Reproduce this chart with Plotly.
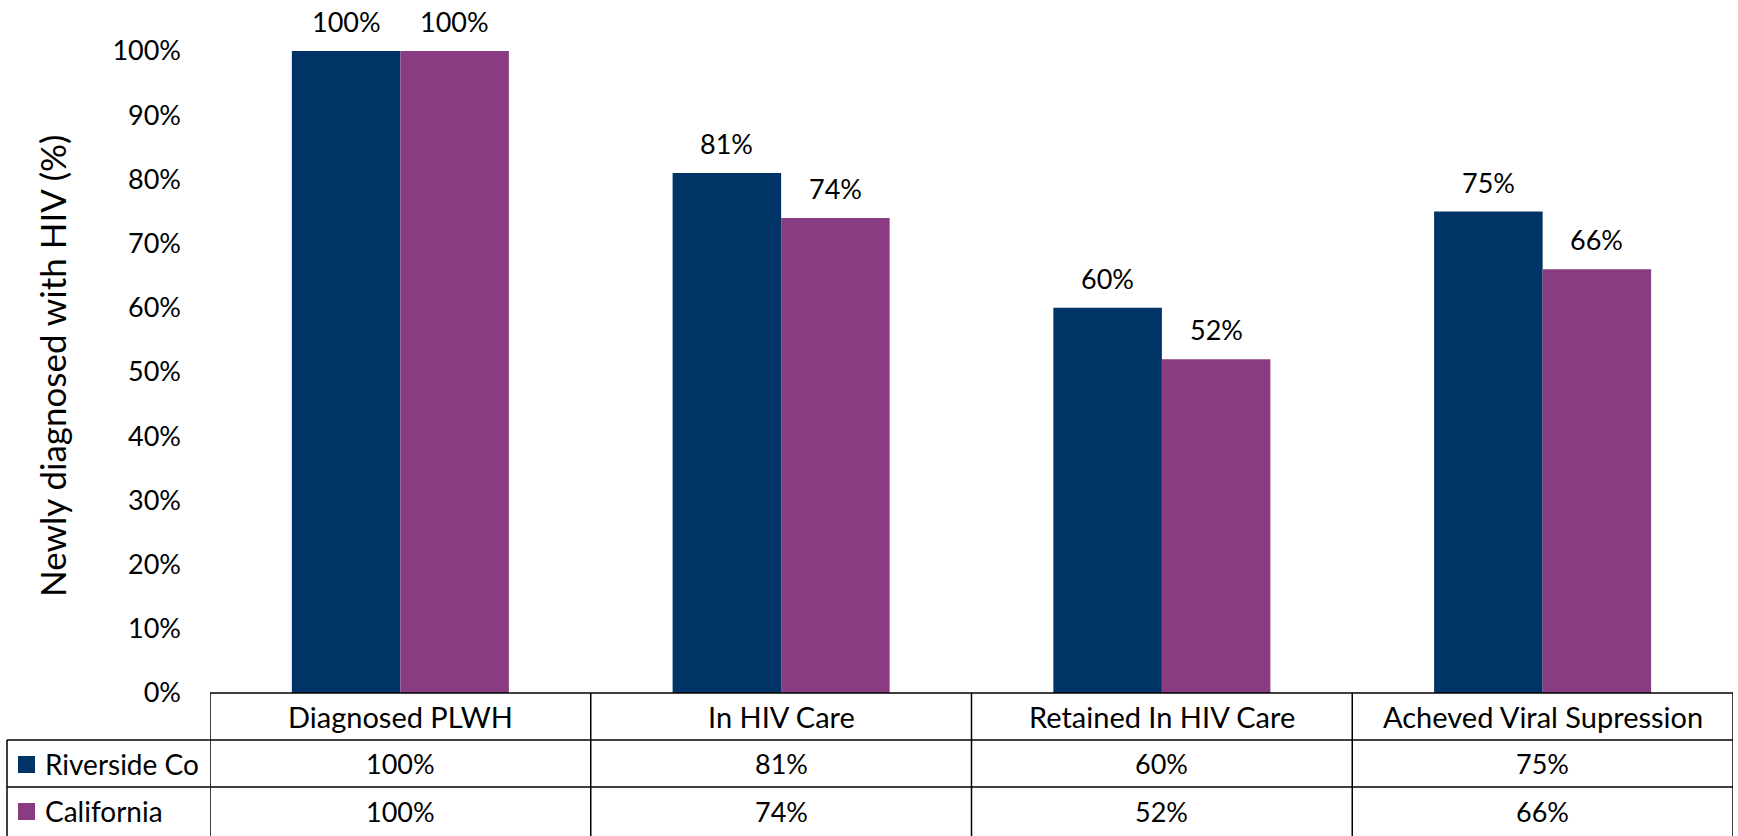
import plotly.graph_objects as go

categories = ["Diagnosed PLWH", "In HIV Care", "Retained In HIV Care", "Acheved Viral Supression"]
riverside = [1.00, 0.81, 0.60, 0.75]
california = [1.00, 0.74, 0.52, 0.66]
series_names = ["Riverside Co", "California"]
colors = ["#003366", "#893C81"]
y_ticks = [i / 10 for i in range(11)]
y_title = "Newly diagnosed with HIV (%)"

FONT = "Lato, 'Liberation Sans', Arial, sans-serif"
FS = 27

W, H = 1738, 836
L, R, T, B = 210, 5, 51, 143
plot_w = W - L - R
plot_h = H - T - B

bargap = 0.43
half = (1 - bargap) / 4  # half of one bar width in category units

fig = go.Figure()
for name, vals, col in zip(series_names, [riverside, california], colors):
    fig.add_trace(go.Bar(x=categories, y=vals, name=name, marker=dict(color=col, line=dict(width=0)),
                         showlegend=False, hoverinfo="skip"))

annotations = []
# data labels above bars
for k, vals in enumerate([riverside, california]):
    off = -half if k == 0 else half
    for i, v in enumerate(vals):
        annotations.append(dict(x=i + off, y=v, xref="x", yref="y", text=f"{round(v*100)}%",
                                showarrow=False, yanchor="bottom", yshift=11,
                                font=dict(family=FONT, size=FS, color="black")))

def py(pix):
    return (H - B - pix) / plot_h

def px(pix):
    return (pix - L) / plot_w

row_tops = [693, 740, 787, 836]
hdr_y = py((row_tops[0] + row_tops[1]) / 2)
r1_y = py((row_tops[1] + row_tops[2]) / 2)
r2_y = py((row_tops[2] + row_tops[3]) / 2)

for i, c in enumerate(categories):
    annotations.append(dict(x=i, y=hdr_y, xref="x", yref="paper", text=c, showarrow=False,
                            yanchor="middle", font=dict(family=FONT, size=29, color="black")))
    annotations.append(dict(x=i, y=r1_y, xref="x", yref="paper", text=f"{round(riverside[i]*100)}%",
                            showarrow=False, yanchor="middle", font=dict(family=FONT, size=FS, color="black")))
    annotations.append(dict(x=i, y=r2_y, xref="x", yref="paper", text=f"{round(california[i]*100)}%",
                            showarrow=False, yanchor="middle", font=dict(family=FONT, size=FS, color="black")))

shapes = []
for name, col, rt in zip(series_names, colors, [row_tops[1], row_tops[2]]):
    yy = py((rt + rt + 47) / 2)
    annotations.append(dict(x=px(43), y=yy, xref="paper", yref="paper", text=name,
                            showarrow=False, xanchor="left", yanchor="middle",
                            font=dict(family=FONT, size=28, color="black")))
    cy = (rt + rt + 47) / 2 + 1
    shapes.append(dict(type="rect", xref="paper", yref="paper", x0=px(18), x1=px(35),
                       y0=py(cy - 8.5), y1=py(cy + 8.5), fillcolor=col, line=dict(width=0)))

# y axis title
annotations.append(dict(x=px(52), y=py(366), xref="paper", yref="paper", text=y_title,
                        textangle=-90, showarrow=False, xanchor="center", yanchor="middle",
                        font=dict(family=FONT, size=35, color="black")))

lc = "black"
lw = 1.5
# header top line
shapes.append(dict(type="line", xref="paper", yref="paper", x0=0, x1=1, y0=0, y1=0,
                   line=dict(color=lc, width=lw)))
# row lines
for rt in row_tops[1:3]:
    shapes.append(dict(type="line", xref="paper", yref="paper", x0=px(7), x1=1, y0=py(rt), y1=py(rt),
                       line=dict(color=lc, width=lw)))
# vertical category boundaries
for i in range(len(categories) + 1):
    shapes.append(dict(type="line", xref="x", yref="paper", x0=i - 0.5, x1=i - 0.5,
                       y0=0, y1=py(H), line=dict(color=lc, width=lw)))
# left column line
shapes.append(dict(type="line", xref="paper", yref="paper", x0=px(7), x1=px(7),
                   y0=py(row_tops[1]), y1=py(H), line=dict(color=lc, width=lw)))

fig.update_layout(
    width=W, height=H,
    margin=dict(l=L, r=R, t=T, b=B, pad=0),
    paper_bgcolor="white", plot_bgcolor="white",
    barmode="group", bargap=bargap, bargroupgap=0,
    font=dict(family=FONT, size=FS, color="black"),
    xaxis=dict(showticklabels=False, showgrid=False, zeroline=False, showline=False,
               range=[-0.5, len(categories) - 0.5]),
    yaxis=dict(range=[0, 1], tickvals=y_ticks, tickformat=".0%", showgrid=False, zeroline=False,
               showline=False, ticks="", ticklabelstandoff=28,
               tickfont=dict(family=FONT, size=FS, color="black")),
    annotations=annotations,
    shapes=shapes,
)

fig.write_html("out.html", config={"displayModeBar": False},
               post_script="document.body.style.margin='0px';")
